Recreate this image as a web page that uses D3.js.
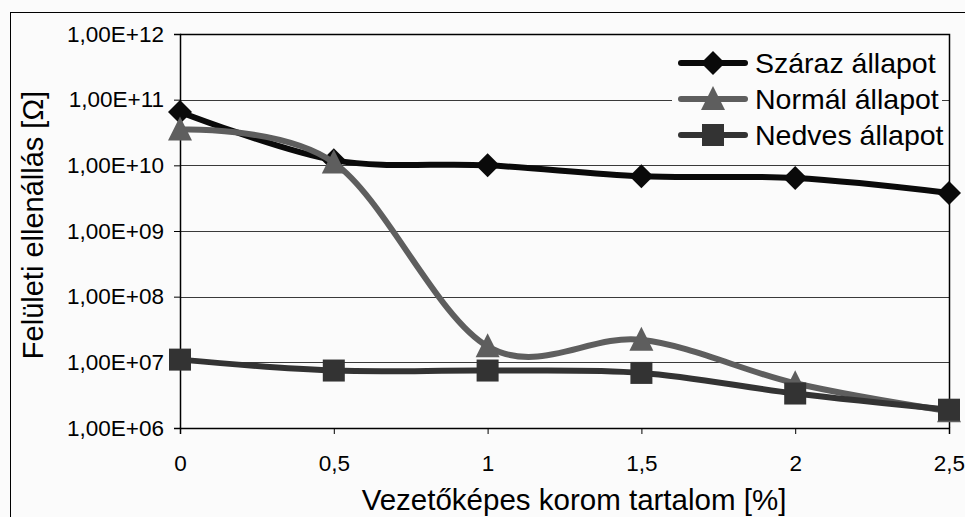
<!DOCTYPE html>
<html>
<head>
<meta charset="utf-8">
<script src="https://cdn.jsdelivr.net/npm/d3@7"></script>
<style>
  html, body { margin: 0; padding: 0; background: #fbfbfb; }
  svg { display: block; }
  text { font-family: "Liberation Sans", Arial, sans-serif; fill: #000; }
</style>
</head>
<body>
<svg id="chart" width="965" height="517"></svg>
<script>
// ---- data ----
const xValues = [0, 0.5, 1, 1.5, 2, 2.5];
const xTickValues = [0, 0.5, 1, 1.5, 2, 2.5];
const xTickLabels = ["0", "0,5", "1", "1,5", "2", "2,5"];
const yTickValues = [1e6, 1e7, 1e8, 1e9, 1e10, 1e11, 1e12];
const yTickLabels = ["1,00E+06", "1,00E+07", "1,00E+08", "1,00E+09", "1,00E+10", "1,00E+11", "1,00E+12"];
const seriesNames = ["Száraz állapot", "Normál állapot", "Nedves állapot"];
const szaraz = [6.5e10, 1.2e10, 1.0e10, 6.8e9, 6.4e9, 3.8e9];
const normal = [3.5e10, 1.1e10, 1.75e7, 2.2e7, 4.8e6, 1.8e6];
const nedves = [1.1e7, 7.5e6, 7.5e6, 6.9e6, 3.35e6, 1.9e6];
const xTitle = "Vezetőképes korom tartalom [%]";
const yTitle = "Felületi ellenállás [Ω]";

// ---- styles ----
const styles = [
  { color: "#0a0a0a", marker: "diamond" },
  { color: "#5e5e5e", marker: "triangle" },
  { color: "#333333", marker: "square" }
];
const seriesData = [szaraz, normal, nedves];

const svg = d3.select("#chart");
const L = 180, R = 949, T = 34, B = 428;

const x = d3.scaleLinear().domain([0, 2.5]).range([L, R]);
const y = d3.scaleLog().domain([1e6, 1e12]).range([B, T]);

// outer frame
svg.append("rect").attr("x", 10.5).attr("y", 12.5).attr("width", 1000).attr("height", 600)
  .attr("fill", "#fbfbfb").attr("stroke", "#000").attr("stroke-width", 1);

// gridlines
svg.append("g").selectAll("line").data(yTickValues.slice(1, -1)).join("line")
  .attr("x1", L).attr("x2", R)
  .attr("y1", d => Math.round(y(d)) + 0.5).attr("y2", d => Math.round(y(d)) + 0.5)
  .attr("stroke", "#3a3a3a").attr("stroke-width", 1);

// plot border (top/right)
svg.append("path")
  .attr("d", `M${L},${T + 0.5}H${R + 0.5}V${B}`)
  .attr("fill", "none").attr("stroke", "#000").attr("stroke-width", 1.5);

// y axis
const yAxis = d3.axisLeft(y).tickValues(yTickValues)
  .tickFormat((d, i) => yTickLabels[i]).tickSize(6).tickPadding(10);
const gy = svg.append("g").attr("transform", `translate(${L},0)`).call(yAxis);
gy.select(".domain").attr("stroke", "#000").attr("stroke-width", 1.5);
gy.selectAll(".tick line").attr("stroke", "#000").attr("stroke-width", 1);
gy.selectAll(".tick text").attr("font-size", 22.5).attr("font-family", "Liberation Sans, Arial, sans-serif").attr("fill", "#000");

// x axis
const xAxis = d3.axisBottom(x).tickValues(xTickValues)
  .tickFormat((d, i) => xTickLabels[i]).tickSize(6).tickPadding(21);
const gx = svg.append("g").attr("transform", `translate(0,${B})`).call(xAxis);
gx.select(".domain").attr("stroke", "#000").attr("stroke-width", 1.5);
gx.selectAll(".tick line").attr("stroke", "#000").attr("stroke-width", 1);
gx.selectAll(".tick text").attr("font-size", 22.5).attr("font-family", "Liberation Sans, Arial, sans-serif").attr("fill", "#000");

// titles
svg.append("text").attr("x", 574).attr("y", 510).attr("text-anchor", "middle")
  .attr("font-size", 29.5).text(xTitle);
svg.append("text").attr("transform", "translate(43,225) rotate(-90)").attr("text-anchor", "middle")
  .attr("font-size", 29).text(yTitle);

// markers
function markerPath(type) {
  if (type === "diamond") return "M0,-12L12,0L0,12L-12,0Z";
  if (type === "triangle") return "M0,-13L12,11L-12,11Z";
  return "M-11,-11H11V11H-11Z";
}

const line = d3.line().x((d, i) => x(xValues[i])).y(d => y(d)).curve(d3.curveCardinal.tension(0));

seriesData.forEach((vals, si) => {
  const g = svg.append("g");
  g.append("path").datum(vals).attr("d", line)
    .attr("fill", "none").attr("stroke", styles[si].color).attr("stroke-width", 6)
    .attr("stroke-linejoin", "round").attr("stroke-linecap", "round");
  g.selectAll("path.m").data(vals).join("path").attr("class", "m")
    .attr("transform", (d, i) => `translate(${x(xValues[i])},${y(d)})`)
    .attr("d", markerPath(styles[si].marker))
    .attr("fill", styles[si].color);
});

// legend
const lg = svg.append("g");
lg.append("rect").attr("x", 672).attr("y", 42).attr("width", 270).attr("height", 114).attr("fill", "#fbfbfb");
const rowY = [63, 99, 135];
seriesNames.forEach((name, i) => {
  lg.append("line").attr("x1", 681).attr("x2", 745).attr("y1", rowY[i]).attr("y2", rowY[i])
    .attr("stroke", styles[i].color).attr("stroke-width", 6).attr("stroke-linecap", "round");
  lg.append("path").attr("transform", `translate(713,${rowY[i]})`)
    .attr("d", markerPath(styles[i].marker)).attr("fill", styles[i].color);
  lg.append("text").attr("x", 755).attr("y", rowY[i] + 9.5).attr("font-size", 28.5).text(name);
});
</script>
</body>
</html>
